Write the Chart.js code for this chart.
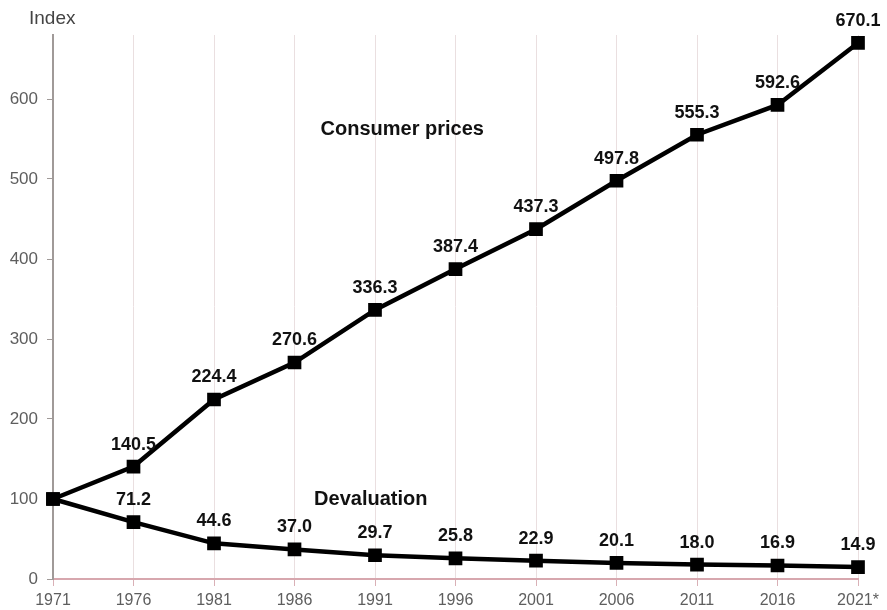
<!DOCTYPE html>
<html>
<head>
<meta charset="utf-8">
<script src="https://cdn.jsdelivr.net/npm/chart.js@4/dist/chart.umd.min.js"></script>
<style>
  html, body { margin: 0; padding: 0; background: #fff; }
  #wrap { width: 887px; height: 610px; }
</style>
</head>
<body>
<div id="wrap"><canvas id="chart"></canvas></div>
<script>
// data
const years = ["1971", "1976", "1981", "1986", "1991", "1996", "2001", "2006", "2011", "2016", "2021*"];
const consumerPrices = [100, 140.5, 224.4, 270.6, 336.3, 387.4, 437.3, 497.8, 555.3, 592.6, 670.1];
const devaluation = [100, 71.2, 44.6, 37.0, 29.7, 25.8, 22.9, 20.1, 18.0, 16.9, 14.9];
const yTicks = [0, 100, 200, 300, 400, 500, 600];

const FONT = "'Liberation Sans', Arial, sans-serif";

// values above the points (not on the first one) + series names + axis title
const labelsPlugin = {
    id: "labelsPlugin",
    afterDatasetsDraw(chart) {
        const ctx = chart.ctx;
        ctx.save();
        ctx.fillStyle = "#111";
        ctx.font = "bold 18px " + FONT;
        ctx.textAlign = "center";
        ctx.textBaseline = "middle";
        chart.data.datasets.forEach((ds, i) => {
            const meta = chart.getDatasetMeta(i);
            meta.data.forEach((pt, j) => {
                if (j === 0) return;
                ctx.fillText(ds.data[j].toFixed(1), pt.x, pt.y - 22);
            });
        });

        const x = chart.scales.x;
        const y = chart.scales.y;
        ctx.font = "bold 20px " + FONT;
        ctx.fillText("Consumer prices", (x.getPixelForValue(4) + x.getPixelForValue(5)) / 2 - 13, y.getPixelForValue(562));
        ctx.fillText("Devaluation", (x.getPixelForValue(3) + x.getPixelForValue(4)) / 2 + 36, y.getPixelForValue(99));

        ctx.font = "19px " + FONT;
        ctx.fillStyle = "#444";
        ctx.textAlign = "left";
        ctx.fillText("Index", 29, 19);
        ctx.restore();
    }
};

const ctx = document.getElementById("chart").getContext("2d");
const chart = new Chart(ctx, {
    type: "line",
    data: {
        labels: years,
        datasets: [
            {
                label: "Consumer prices",
                data: consumerPrices,
                borderColor: "#000",
                backgroundColor: "#000",
                borderWidth: 4.5,
                pointStyle: "rect",
                pointRadius: 6.5,
                tension: 0
            },
            {
                label: "Devaluation",
                data: devaluation,
                borderColor: "#000",
                backgroundColor: "#000",
                borderWidth: 4.5,
                pointStyle: "rect",
                pointRadius: 6.5,
                tension: 0
            }
        ]
    },
    options: {
        responsive: true,
        maintainAspectRatio: false,
        animation: false,
        layout: { padding: { top: 35, right: 29, left: 0, bottom: 0 } },
        plugins: {
            legend: { display: false },
            tooltip: { enabled: false }
        },
        scales: {
            x: {
                offset: false,
                grid: {
                    color: "#eadfe0",
                    lineWidth: 1,
                    tickLength: 7,
                    tickColor: "#d9b0b6"
                },
                border: { color: "#d7a7ae", width: 2 },
                ticks: {
                    color: "#5e5e5e",
                    font: { family: FONT, size: 16 },
                    padding: 5,
                    maxRotation: 0,
                    autoSkip: false
                },
                afterFit(scale) { scale.height = 31; }
            },
            y: {
                min: 0,
                max: 680,
                afterBuildTicks(scale) {
                    scale.ticks = yTicks.map(v => ({ value: v }));
                },
                grid: {
                    drawOnChartArea: false,
                    tickLength: 6,
                    tickColor: "#a09a98"
                },
                border: { color: "#a09a98", width: 2 },
                ticks: {
                    color: "#5e5e5e",
                    font: { family: FONT, size: 17 },
                    padding: 9
                },
                afterFit(scale) { scale.width = 53; }
            }
        }
    },
    plugins: [labelsPlugin]
});
</script>
</body>
</html>
